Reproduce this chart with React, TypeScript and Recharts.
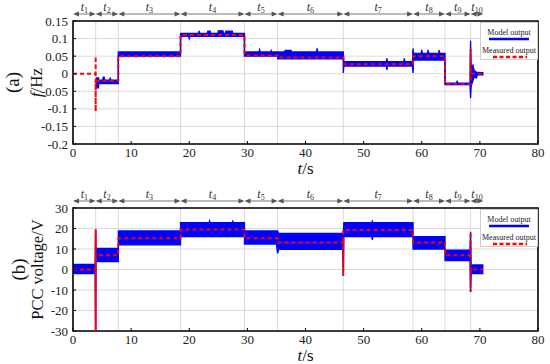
import React from 'react';
import {
  ComposedChart,
  Area,
  Line,
  XAxis,
  YAxis,
  CartesianGrid,
  ReferenceArea,
  Legend,
} from 'recharts';

const FONT = 'Liberation Serif';
const BLUE = '#0000ff';
const RED = '#ff0000';

// ---- data -------------------------------------------------------------
const periodBounds = [0, 3.9, 7.8, 18.5, 29.5, 35.2, 46.5, 58.5, 64, 68.4, 70.6];
const periodNames = ['1', '2', '3', '4', '5', '6', '7', '8', '9', '10'];
const gridBounds = [3.9, 7.8, 18.5, 29.5, 35.2, 46.5, 58.5, 64, 68.4];
const xTicks = [0, 10, 20, 30, 40, 50, 60, 70, 80];
const freqTicks = [-0.2, -0.15, -0.1, -0.05, 0, 0.05, 0.1, 0.15];
const voltTicks = [-30, -20, -10, 0, 10, 20, 30];
const legendNames = ['Model output', 'Measured output'];

// model output band: [t, low, high]
const freqModel: [number, number, number][] = [
  [3.9, -0.04, -0.012], [4.4, -0.04, -0.012], [4.4, -0.028, -0.018],
  [5.1, -0.028, -0.018], [5.2, -0.028, -0.01], [5.35, -0.028, -0.01],
  [5.45, -0.028, -0.018], [6.3, -0.028, -0.018], [6.4, -0.028, -0.011],
  [6.5, -0.028, -0.018], [7.8, -0.028, -0.018],
  [7.8, 0.05, 0.062], [18.5, 0.05, 0.062],
  [18.5, 0.106, 0.115], [19.9, 0.106, 0.115], [20.0, 0.1, 0.115],
  [20.1, 0.106, 0.115], [21.6, 0.106, 0.115], [21.7, 0.106, 0.122],
  [21.8, 0.106, 0.115], [23.1, 0.106, 0.115], [23.2, 0.106, 0.121],
  [23.6, 0.106, 0.121], [23.7, 0.106, 0.115], [24.9, 0.106, 0.115],
  [25.0, 0.106, 0.122], [25.8, 0.106, 0.122], [25.9, 0.106, 0.115],
  [26.2, 0.106, 0.115], [26.3, 0.106, 0.121], [27.4, 0.106, 0.121],
  [27.5, 0.106, 0.115], [29.5, 0.106, 0.115],
  [29.5, 0.05, 0.062], [32.0, 0.05, 0.062], [32.1, 0.05, 0.068],
  [32.2, 0.05, 0.062], [34.0, 0.05, 0.062], [34.1, 0.05, 0.066],
  [34.2, 0.05, 0.062], [35.2, 0.05, 0.062],
  [35.2, 0.042, 0.062], [36.4, 0.042, 0.062], [36.5, 0.042, 0.066],
  [37.5, 0.042, 0.066], [37.6, 0.042, 0.062], [41.9, 0.042, 0.062],
  [42.0, 0.042, 0.072], [42.1, 0.042, 0.062], [46.5, 0.042, 0.062],
  [46.5, 0.002, 0.062], [46.6, 0.022, 0.034], [53.9, 0.022, 0.034],
  [54.0, 0.011, 0.044], [54.1, 0.022, 0.034], [56.9, 0.022, 0.034],
  [57.0, 0.022, 0.044], [57.1, 0.022, 0.034], [58.4, 0.022, 0.034],
  [58.5, 0.002, 0.072], [58.6, 0.039, 0.058], [59.9, 0.039, 0.058],
  [60.0, 0.039, 0.068], [60.1, 0.039, 0.058], [61.0, 0.039, 0.058],
  [61.1, 0.039, 0.068], [61.2, 0.039, 0.058], [62.9, 0.039, 0.058],
  [63.0, 0.039, 0.067], [63.1, 0.039, 0.058], [64.0, 0.039, 0.058],
  [64.0, -0.031, -0.027], [66.0, -0.031, -0.027], [66.1, -0.031, -0.02],
  [66.2, -0.031, -0.027], [68.3, -0.031, -0.027],
  [68.4, -0.07, 0.094], [68.5, -0.035, 0.02], [68.8, -0.02, 0.025],
  [69.0, -0.01, 0.01], [69.4, -0.012, 0.004], [69.6, -0.003, 0.004],
  [70.6, -0.003, 0.003],
];

const freqMeasured: [number, number][] = [
  [0, 0], [3.9, 0], [3.9, 0.05], [3.9, -0.107], [3.9, -0.02], [7.8, -0.02],
  [7.8, 0.05], [18.5, 0.05], [18.5, 0.11], [29.5, 0.11], [29.5, 0.052],
  [35.2, 0.052], [35.2, 0.046], [46.5, 0.046], [46.5, 0.027], [58.5, 0.027],
  [58.5, 0.05], [64, 0.05], [64, -0.03], [68.4, -0.03], [68.4, 0.07],
  [68.4, 0], [70.6, 0],
];

const voltModel: [number, number, number][] = [
  [0, -2, 2.5], [3.8, -2, 2.5], [3.9, -32, 19.6], [3.95, 3.8, 10.3],
  [7.8, 3.8, 10.3], [7.8, 12, 18.8], [18.5, 12, 18.8],
  [18.5, 16, 22.8], [23.4, 16, 22.8], [23.5, 16, 23.7], [23.6, 16, 22.8],
  [27.4, 16, 22.8], [27.5, 16, 23.5], [27.6, 16, 22.8], [29.5, 16, 22.8],
  [29.5, 12.4, 18.8], [35.0, 12.4, 18.8], [35.2, 7.9, 18.8], [35.4, 9.8, 17.6],
  [46.4, 9.8, 17.6], [46.5, -3, 17.6], [46.6, 16, 22.8], [51.4, 16, 22.8],
  [51.5, 14.4, 23.6], [51.6, 16, 22.8], [58.5, 16, 22.8],
  [58.5, 10, 16], [64, 10, 16], [64, 4.3, 9.5], [68.3, 4.3, 9.5],
  [68.4, -11, 18.4], [68.5, -2, 2.2], [70.6, -2, 2.2],
];

const voltMeasured: [number, number][] = [
  [0, 0], [3.9, 0], [3.9, 19.6], [3.9, -32], [3.9, 7], [7.8, 7], [7.8, 15.2],
  [18.5, 15.2], [18.5, 19.5], [29.5, 19.5], [29.5, 15.2], [35.2, 15.2],
  [35.2, 13.2], [46.5, 13.2], [46.5, -3], [46.5, 19.3], [58.5, 19.3],
  [58.5, 13.2], [64, 13.2], [64, 7], [68.4, 7], [68.4, 18.4], [68.4, -11],
  [68.4, 0], [70.6, 0],
];

// ---- helpers ----------------------------------------------------------
const PeriodArrow = (props: any) => {
  const { x, y, width, label } = props;
  const ly = y - 7;
  const x1 = x;
  const x2 = x + width;
  const c = '#555';
  return (
    <g>
      <line x1={x1 + 2} y1={ly} x2={x2 - 2} y2={ly} stroke={c} strokeWidth={0.8} />
      <polygon points={`${x1},${ly} ${x1 + 6},${ly - 2.5} ${x1 + 6},${ly + 2.5}`} fill={c} />
      <polygon points={`${x2},${ly} ${x2 - 6},${ly - 2.5} ${x2 - 6},${ly + 2.5}`} fill={c} />
      <text x={x1 + width / 2} y={ly - 3} textAnchor="middle" style={{ fontFamily: FONT }} fontSize={12} fill="#333">
        <tspan fontStyle="italic">t</tspan>
        <tspan fontSize={8} dy={2}>{label}</tspan>
      </text>
    </g>
  );
};

const XLabel = (props: any) => {
  const vb = props.viewBox || {};
  return (
    <text x={vb.x + vb.width / 2} y={vb.y + 30} textAnchor="middle" style={{ fontFamily: FONT }} fontSize={17} fill="#111">
      <tspan fontStyle="italic">t</tspan>/s
    </text>
  );
};

const YLabel = (props: any) => {
  const vb = props.viewBox || {};
  const cy = vb.y + vb.height / 2;
  const lx = vb.x + props.dxName;
  const px = vb.x + props.dxLetter;
  return (
    <g>
      <text x={px} y={cy} transform={`rotate(-90, ${px}, ${cy})`} textAnchor="middle" dominantBaseline="central" style={{ fontFamily: FONT }} fontSize={19} fill="#111">
        {props.letter}
      </text>
      <text x={lx} y={cy} transform={`rotate(-90, ${lx}, ${cy})`} textAnchor="middle" dominantBaseline="central" style={{ fontFamily: FONT }} fontSize={props.nameSize} fill="#111">
        {props.italic ? <tspan fontStyle="italic">{props.italic}</tspan> : null}
        {props.name}
      </text>
    </g>
  );
};

const LegendBox = () => (
  <svg width={58} height={38} style={{ display: 'block' }}>
    <rect x={0.5} y={0.5} width={57} height={37} fill="#fff" stroke="#cfcfcf" />
    <text x={29} y={13} textAnchor="middle" style={{ fontFamily: FONT }} fontSize={8} fill="#222">{legendNames[0]}</text>
    <line x1={9} x2={49} y1={17} y2={17} stroke={BLUE} strokeWidth={2.5} />
    <text x={29} y={31} textAnchor="middle" style={{ fontFamily: FONT }} fontSize={8} fill="#222">{legendNames[1]}</text>
    <line x1={13} x2={47} y1={35} y2={35} stroke={RED} strokeWidth={2.5} strokeDasharray="4 2.5" />
  </svg>
);

interface PanelProps {
  top: number;
  marginTop: number;
  marginBottom: number;
  model: [number, number, number][];
  measured: [number, number][];
  yDomain: [number, number];
  yTicks: number[];
  yFmt: (v: number) => string;
  letter: string;
  italic?: string;
  name: string;
  nameSize: number;
  dxLetter: number;
  dxName: number;
}

function Panel(p: PanelProps) {
  const bandData = p.model.map(([t, lo, hi]) => ({ t, band: [lo, hi] }));
  const lineData = p.measured.map(([t, v]) => ({ t, v }));
  const [yMin, yMax] = p.yDomain;
  const span = yMax - yMin;
  const tickStyle = { fontFamily: FONT, fontSize: 13, fill: '#222', style: { fontFamily: FONT } };
  const vGen = (args: any) => {
    const xa = args.xAxis;
    if (xa && typeof xa.scale === 'function') return gridBounds.map((b) => xa.scale(b));
    const o = args.offset;
    return gridBounds.map((b) => o.left + (b / 80) * o.width);
  };
  return (
    <div style={{ position: 'absolute', left: 0, top: p.top, fontFamily: FONT }}>
      <ComposedChart
        width={550}
        height={182}
        margin={{ top: p.marginTop, right: 12, bottom: p.marginBottom, left: 23 }}
        style={{ fontFamily: FONT }}
      >
        <CartesianGrid stroke="#d2d2d2" strokeWidth={0.8} verticalCoordinatesGenerator={vGen} />
        <XAxis
          type="number"
          dataKey="t"
          domain={[0, 80]}
          ticks={xTicks}
          allowDataOverflow
          height={25}
          axisLine={false}
          tickLine={{ stroke: '#000' }}
          tickSize={-3}
          tickMargin={7}
          tick={tickStyle}
          label={<XLabel />}
        />
        <YAxis
          type="number"
          domain={p.yDomain}
          ticks={p.yTicks}
          allowDataOverflow
          width={50}
          axisLine={false}
          tickLine={{ stroke: '#000' }}
          tickSize={-3}
          tickMargin={8}
          tickFormatter={p.yFmt}
          tick={tickStyle}
          interval={0}
          label={
            <YLabel
              letter={p.letter}
              italic={p.italic}
              name={p.name}
              nameSize={p.nameSize}
              dxLetter={p.dxLetter}
              dxName={p.dxName}
            />
          }
        />
        <Area
          data={bandData}
          dataKey="band"
          type="linear"
          stroke={BLUE}
          strokeWidth={1.3}
          fill={BLUE}
          fillOpacity={1}
          dot={false}
          activeDot={false}
          isAnimationActive={false}
          name={legendNames[0]}
        />
        <Line
          data={lineData}
          dataKey="v"
          type="linear"
          stroke={RED}
          strokeWidth={2}
          strokeDasharray="4 3"
          dot={false}
          activeDot={false}
          isAnimationActive={false}
          name={legendNames[1]}
        />
        <ReferenceArea x1={0} x2={80} y1={yMin} y2={yMax} fill="none" stroke="#000" strokeWidth={1.6} ifOverflow="visible" />
        {periodNames.map((n, i) => (
          <ReferenceArea
            key={n}
            x1={periodBounds[i]}
            x2={periodBounds[i + 1]}
            y1={yMax}
            y2={yMax - span * 0.01}
            ifOverflow="visible"
            shape={(sp: any) => <PeriodArrow {...sp} label={n} />}
          />
        ))}
        <Legend
          layout="vertical"
          align="center"
          verticalAlign="middle"
          wrapperStyle={{ top: p.marginTop + 1, left: 480, width: 58, height: 38 }}
          content={() => <LegendBox />}
        />
      </ComposedChart>
    </div>
  );
}

const fmtFreq = (v: number) => String(Math.round(v * 100) / 100);
const fmtVolt = (v: number) => String(v);

export default function App() {
  return (
    <div style={{ position: 'absolute', left: 0, top: 0, width: 550, height: 364, background: '#fff' }}>
      <Panel
        top={0}
        marginTop={21}
        marginBottom={13}
        model={freqModel}
        measured={freqMeasured}
        yDomain={[-0.2, 0.15]}
        yTicks={freqTicks}
        yFmt={fmtFreq}
        letter="(a)"
        italic="f"
        name="/Hz"
        nameSize={17}
        dxLetter={-11}
        dxName={13}
      />
      <Panel
        top={182}
        marginTop={26}
        marginBottom={8}
        model={voltModel}
        measured={voltMeasured}
        yDomain={[-30, 30]}
        yTicks={voltTicks}
        yFmt={fmtVolt}
        letter="(b)"
        name="PCC voltage/V"
        nameSize={16.5}
        dxLetter={-5}
        dxName={14}
      />
    </div>
  );
}
